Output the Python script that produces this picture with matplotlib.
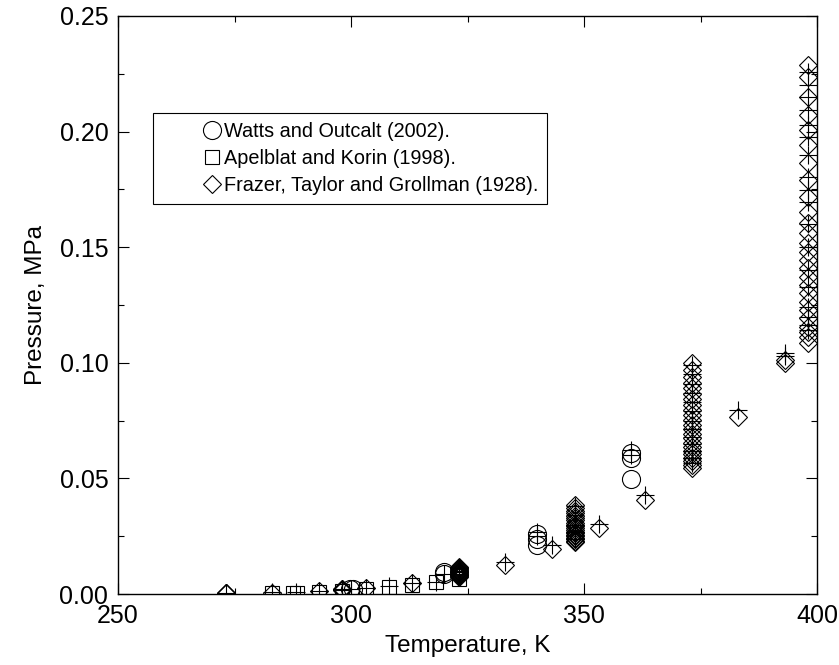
import numpy as np
import matplotlib
matplotlib.use("Agg")
import matplotlib.pyplot as plt
from matplotlib.ticker import MultipleLocator, FormatStrFormatter

plt.rcParams['font.family'] = ['Liberation Sans', 'DejaVu Sans']

# Watts and Outcalt (2002)
watts_T = [299.8, 300.4, 320.0, 320.0, 340.0, 340.0, 340.0, 360.0, 360.0, 360.0]
watts_P = [0.0021, 0.0022, 0.0085, 0.0095, 0.0212, 0.0237, 0.0258, 0.0496, 0.0587, 0.0611]

# Apelblat and Korin (1998)
apel_T = [283.15, 287.6, 288.4, 293.15, 298.15, 303.15, 308.15, 313.15, 318.15, 323.15]
apel_P = [0.0005, 0.0004, 0.0004, 0.0010, 0.0015, 0.0022, 0.0030, 0.0038, 0.0050, 0.0066]

# Frazer, Taylor and Grollman (1928)
frazer_T = ([273.15] * 3 + [283.15, 293.15] + [298.15] * 4 + [303.15, 313.15]
            + [323.15] * 13 + [333.15, 343.15] + [348.15] * 20 + [353.15, 363.15]
            + [373.15] * 23 + [383.15, 393.15, 393.15] + [398.15] * 26)
frazer_P = [0.0003, 0.0004, 0.0005,
            0.0006, 0.0011,
            0.0016, 0.0018, 0.0020, 0.0022,
            0.0025, 0.0047,
            0.0115, 0.0111, 0.0107, 0.0103, 0.0099, 0.0096, 0.0093, 0.0090, 0.0087,
            0.0084, 0.0081, 0.0078, 0.0075,
            0.0125, 0.0193,
            0.0385, 0.0372, 0.0360, 0.0349, 0.0338, 0.0328, 0.0318, 0.0309, 0.0300,
            0.0292, 0.0284, 0.0276, 0.0269, 0.0262, 0.0255, 0.0249, 0.0243, 0.0237,
            0.0231, 0.0226,
            0.0284, 0.0407,
            0.0998, 0.0969, 0.0940, 0.0914, 0.0890, 0.0865, 0.0842, 0.0819, 0.0796,
            0.0774, 0.0753, 0.0732, 0.0712, 0.0692, 0.0673, 0.0654, 0.0637, 0.0620,
            0.0604, 0.0588, 0.0574, 0.0559, 0.0545,
            0.0767, 0.0998, 0.1010,
            0.2288, 0.2237, 0.2151, 0.2072, 0.2007, 0.1942, 0.1863, 0.1791, 0.1718,
            0.1654, 0.1603, 0.1560, 0.1517, 0.1481, 0.1445, 0.1409, 0.1372, 0.1336,
            0.1301, 0.1264, 0.1228, 0.1192, 0.1156, 0.1135, 0.1113, 0.1084]

# calculated values (crosses, no legend entry)
calc_T = ([273.15, 283.15, 288.15, 293.15, 298.15, 298.15, 300.0, 303.15, 308.15,
           313.15, 318.15, 320.0, 323.15, 323.15, 323.15, 333.15, 340.0, 340.0, 343.15]
          + [348.15] * 5 + [353.15, 360.0, 360.0, 363.15] + [373.15] * 13
          + [383.15, 393.15, 393.15] + [398.15] * 18)
calc_P = ([0.0004, 0.0007, 0.0009, 0.0012, 0.0018, 0.0020, 0.0021, 0.0026, 0.0033,
           0.0048, 0.0054, 0.0088, 0.0085, 0.0100, 0.0112, 0.0140, 0.0250, 0.0269, 0.0212]
          + [0.0380, 0.0340, 0.0300, 0.0270, 0.0240]
          + [0.0303, 0.0623, 0.0600, 0.0428]
          + [0.0990, 0.0950, 0.0910, 0.0870, 0.0830, 0.0790, 0.0750, 0.0715, 0.0680,
             0.0650, 0.0620, 0.0590, 0.0565]
          + [0.0796, 0.1042, 0.1030]
          + [0.2259, 0.2200, 0.2150, 0.2093, 0.2028, 0.1978, 0.1900, 0.1805, 0.1747,
             0.1697, 0.1600, 0.1502, 0.1400, 0.1330, 0.1243, 0.1200, 0.1163, 0.1142])

fig = plt.figure(figsize=(8.39, 6.65), dpi=100)
ax = fig.add_axes([118/839, 1 - 594/665, (817 - 118)/839, (594 - 16)/665])

lw = 0.8
ax.plot(calc_T, calc_P, ls='none', marker='+', ms=13.5, mew=lw, color='k', zorder=4)
ax.plot(watts_T, watts_P, ls='none', marker='o', ms=13, mfc='none', mec='k', mew=lw,
        label="Watts and Outcalt (2002).", zorder=3)
ax.plot(apel_T, apel_P, ls='none', marker='s', ms=10.5, mfc='none', mec='k', mew=lw,
        label="Apelblat and Korin (1998).", zorder=3)
ax.plot(frazer_T, frazer_P, ls='none', marker='D', ms=9, mfc='none', mec='k', mew=lw,
        label="Frazer, Taylor and Grollman (1928).", zorder=3)

ax.set_xlim(250, 400)
ax.set_ylim(0, 0.25)
ax.xaxis.set_major_locator(MultipleLocator(50))
ax.xaxis.set_minor_locator(MultipleLocator(25))
ax.yaxis.set_major_locator(MultipleLocator(0.05))
ax.yaxis.set_minor_locator(MultipleLocator(0.025))
ax.yaxis.set_major_formatter(FormatStrFormatter('%.2f'))
ax.tick_params(which='both', direction='in', top=True, right=True, width=0.8,
               labelsize=18, pad=7)
ax.tick_params(which='major', length=8)
ax.tick_params(which='minor', length=4)
for s in ax.spines.values():
    s.set_linewidth(1.0)

ax.set_xlabel("Temperature, K", fontsize=17.5, labelpad=5)
ax.set_ylabel("Pressure, MPa", fontsize=17.5, labelpad=9)

leg = ax.legend(loc='upper left', bbox_to_anchor=(153/839, 1 - 113/665),
                bbox_transform=fig.transFigure, borderaxespad=0, fontsize=14.3,
                numpoints=1, handlelength=5.0, handletextpad=-1.9, borderpad=0.45,
                labelspacing=0.4, fancybox=False, framealpha=1, edgecolor='k')
leg.get_frame().set_linewidth(0.8)

plt.savefig("out.png", dpi=100)
